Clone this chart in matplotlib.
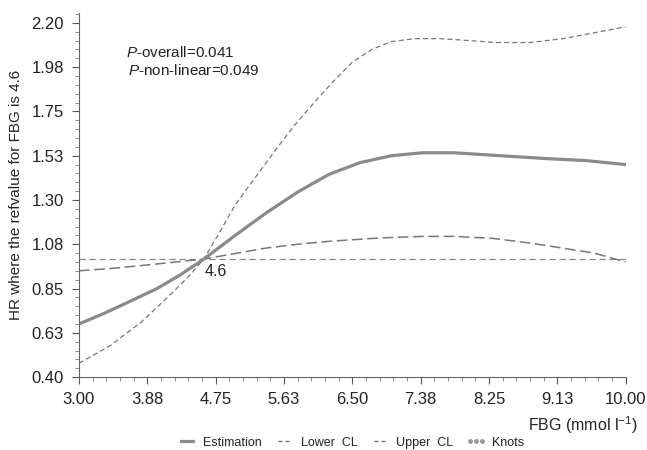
import matplotlib
matplotlib.use("Agg")
import matplotlib.pyplot as plt
from matplotlib.ticker import AutoMinorLocator
from matplotlib.lines import Line2D

plt.rcParams["font.family"] = ["Liberation Sans", "DejaVu Sans"]
plt.rcParams["mathtext.fontset"] = "custom"
plt.rcParams["mathtext.rm"] = "Liberation Sans"
plt.rcParams["mathtext.it"] = "Liberation Sans:italic"

# values
est_x = [3.0, 3.3, 3.6, 4.0, 4.3, 4.6, 5.0, 5.4, 5.8, 6.2, 6.6, 7.0, 7.4, 7.8, 8.2, 8.6, 9.0, 9.5, 10.0]
est_y = [0.67, 0.72, 0.775, 0.85, 0.92, 1.00, 1.12, 1.235, 1.34, 1.43, 1.49, 1.525, 1.54, 1.54, 1.53, 1.52, 1.51, 1.50, 1.48]

up_x = [3.0, 3.4, 3.8, 4.2, 4.4, 4.6, 4.8, 5.0, 5.25, 5.5, 5.75, 6.0, 6.25, 6.5, 6.75, 7.0, 7.3,
        7.62, 8.0, 8.35, 8.77, 9.2, 9.6, 10.0]
up_y = [0.47, 0.56, 0.68, 0.83, 0.91, 1.00, 1.135, 1.275, 1.41, 1.545, 1.675, 1.79, 1.90, 2.00, 2.065,
        2.105, 2.12, 2.12, 2.11, 2.10, 2.10, 2.12, 2.15, 2.18]

lo_x = [3.0, 3.5, 4.0, 4.6, 5.4, 5.8, 6.2, 6.85, 7.4, 7.8, 8.3, 8.8, 9.2, 9.6, 10.0]
lo_y = [0.94, 0.955, 0.975, 1.00, 1.056, 1.075, 1.09, 1.107, 1.115, 1.115, 1.105, 1.08, 1.055, 1.03, 0.985]

ref_value = 4.6
ref_hr = 1.0

x_ticks = [3.0, 3.875, 4.75, 5.625, 6.5, 7.375, 8.25, 9.125, 10.0]
x_labels = ["3.00", "3.88", "4.75", "5.63", "6.50", "7.38", "8.25", "9.13", "10.00"]
y_ticks = [0.4, 0.625, 0.85, 1.075, 1.3, 1.525, 1.75, 1.975, 2.2]
y_labels = ["0.40", "0.63", "0.85", "1.08", "1.30", "1.53", "1.75", "1.98", "2.20"]

txt = "#222222"
fig = plt.figure(figsize=(6.47, 4.5), dpi=100)
ax = fig.add_axes([0.122, 0.162, 0.845, 0.809])

ax.axhline(ref_hr, color="#888888", lw=0.9, ls=(0, (5, 3)))
ax.plot(up_x, up_y, color="#777777", lw=0.9, ls=(0, (4, 2.5)))
ax.plot(lo_x, lo_y, color="#777777", lw=1.1, ls=(0, (7, 3)))
ax.plot(est_x, est_y, color="#8a8a8a", lw=2.3, solid_joinstyle="round")

ax.set_xlim(3.0, 10.0)
ax.set_ylim(0.4, 2.25)
ax.set_xticks(x_ticks)
ax.set_xticklabels(x_labels)
ax.set_yticks(y_ticks)
ax.set_yticklabels(y_labels)
ax.xaxis.set_minor_locator(AutoMinorLocator(5))
ax.yaxis.set_minor_locator(AutoMinorLocator(5))
ax.tick_params(which="major", length=5, width=0.8, colors="#555555", labelcolor=txt, labelsize=12, pad=6)
ax.tick_params(which="minor", length=3, width=0.6, colors="#777777")

for s in ["top", "right"]:
    ax.spines[s].set_visible(False)
for s in ["left", "bottom"]:
    ax.spines[s].set_color("#666666")
    ax.spines[s].set_linewidth(0.8)

ax.set_ylabel("HR where the refvalue for FBG is 4.6", fontsize=11, color=txt, labelpad=6)
fig.text(0.986, 0.056, "FBG (mmol l$^{-1}$)", ha="right", va="center", fontsize=11.5, color=txt)

ax.text(0.087, 0.878, "$P$-overall=0.041", transform=ax.transAxes, fontsize=11, color=txt)
ax.text(0.089, 0.829, "$P$-non-linear=0.049", transform=ax.transAxes, fontsize=11, color=txt)
ax.text(ref_value + 0.01, ref_hr - 0.025, "4.6", ha="left", va="top", fontsize=11.5, color=txt)

handles = [
    Line2D([], [], color="#8a8a8a", lw=2.3),
    Line2D([], [], color="#777777", lw=1.0, ls=(0, (3, 2))),
    Line2D([], [], color="#777777", lw=1.0, ls=(0, (3, 2))),
    Line2D([], [], color="#999999", lw=0, marker="o", markersize=2.5),
]
fig.legend(handles, ["Estimation", "Lower  CL", "Upper  CL", "Knots"],
           loc="lower center", bbox_to_anchor=(0.542, -0.022), ncol=4, frameon=False,
           fontsize=9, handlelength=1.6, columnspacing=1.0, handletextpad=0.5,
           labelcolor=txt, markerscale=1, numpoints=3)

fig.savefig("out.png", dpi=100)
